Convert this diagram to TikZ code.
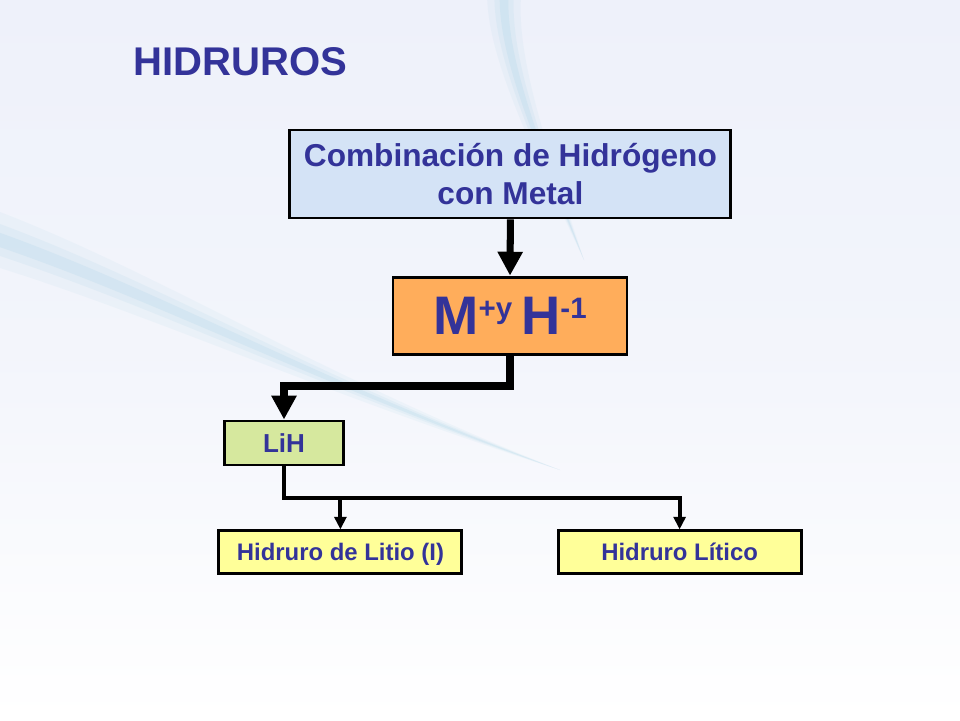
\documentclass[tikz,border=0pt]{standalone}
\usepackage{fontspec}
\setmainfont{Liberation Sans}
\usepackage{xcolor}
\usepackage{tikz}
\usetikzlibrary{arrows.meta,calc}
\definecolor{ink}{HTML}{333399}
\definecolor{skyfill}{HTML}{D4E3F6}
\definecolor{orangefill}{HTML}{FFAD5B}
\definecolor{greenfill}{HTML}{D6E89E}
\definecolor{yellowfill}{HTML}{FFFF99}
\definecolor{wash}{HTML}{EEF1FA}
\definecolor{swoosh}{HTML}{8CC6E0}
\tikzset{
  box/.style={draw=black, line width=2.1pt, inner sep=0pt, align=center, text=ink},
  titleLbl/.style={text=ink, font=\fontsize{28.5}{32}\selectfont\bfseries},
  bigLink/.style={draw=black, line width=5pt, -{Triangle[width=17pt,length=17pt]}},
  thinLink/.style={draw=black, line width=2.8pt, -{Triangle[width=8.5pt,length=9pt]}},
}
\newcommand{\supr}[1]{\raisebox{11pt}{\fontsize{21}{21}\selectfont #1}}

\begin{document}
\begin{tikzpicture}
  \useasboundingbox (0,0) rectangle (24,18);
  % slide background
  \shade[top color=wash, bottom color=white, middle color=wash!70] (0,0) rectangle (24,18);
  \foreach \w/\op in {0.7/0.08,0.4/0.1,0.18/0.14}{
    \fill[swoosh, opacity=\op] (0,12+\w) .. controls (4,10.6+0.8*\w) and (8,8.4+0.3*\w) .. (14,6.25)
      .. controls (8,8.4-0.3*\w) and (4,10.6-0.8*\w) .. (0,12-\w) -- cycle;
    \fill[swoosh, opacity=\op] (12.6-0.6*\w,18) .. controls (12.6-0.5*\w,16.5) and (13.4-0.3*\w,14.5) .. (14.6,11.5)
      .. controls (13.4+0.3*\w,14.5) and (12.6+0.5*\w,16.5) .. (12.6+0.6*\w,18) -- cycle;
  }

  \node[titleLbl, anchor=base west] (title) at (3.22,16.1) {HIDRUROS};

  \node[box, fill=skyfill, minimum width=11.025cm, minimum height=2.2cm,
        font=\fontsize{22.5}{27}\selectfont\bfseries] (comb) at (12.76,13.65)
        {Combinación de Hidrógeno\\con Metal};
  \node[box, fill=orangefill, minimum width=5.85cm, minimum height=1.925cm,
        font=\fontsize{38.6}{39}\selectfont\bfseries] (mh) at (12.75,10.11)
        {M\supr{+y}\,H\supr{-1}};
  \node[box, fill=greenfill, minimum width=2.975cm, minimum height=1.1cm, text height=13.2pt, text depth=0pt,
        font=\fontsize{18.5}{22}\selectfont\bfseries] (lih) at (7.1,6.925) {LiH};
  \node[box, fill=yellowfill, minimum width=6.075cm, minimum height=1.075cm, text height=12.2pt, text depth=0pt,
        font=\fontsize{17}{20}\selectfont\bfseries] (litio) at (8.51,4.19) {Hidruro de Litio (I)};
  \node[box, fill=yellowfill, minimum width=6.075cm, minimum height=1.075cm, text height=12.2pt, text depth=0pt,
        font=\fontsize{17}{20}\selectfont\bfseries] (litico) at (16.99,4.19) {Hidruro Lítico};

  \draw[bigLink] (comb.south) -- (mh.north);
  \coordinate (mhbend) at (12.75,8.35);
  \draw[bigLink] (mh.south) -- (mhbend) -| (lih.north);

  \coordinate (split) at (7.1,5.55);
  \draw[thinLink] (lih.south) -- (split) -| (litio.north);
  \draw[thinLink] (split) -| (litico.north);
\end{tikzpicture}
\end{document}
